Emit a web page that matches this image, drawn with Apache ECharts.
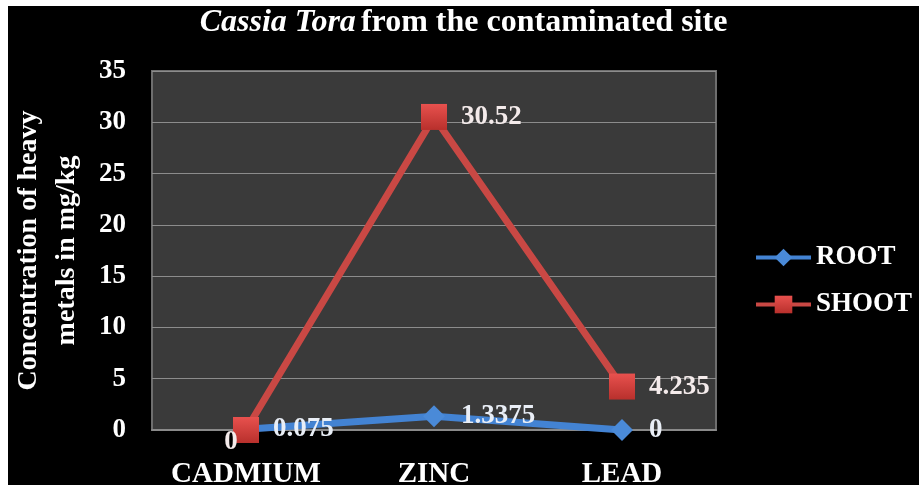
<!DOCTYPE html>
<html lang="en">
<head>
    <meta charset="UTF-8">
    <title>Cassia Tora</title>
    <style>
        html, body {
            margin: 0;
            padding: 0;
            background: #fff;
        }
        #chart {
            position: absolute;
            left: 8px;
            top: 6px;
            width: 911px;
            height: 479px;
            background: #000;
        }
    </style>
</head>
<body>
    <div id="chart"></div>
    <script src="https://cdn.jsdelivr.net/npm/echarts@6/dist/echarts.min.js"></script>
    <script>
        var categories = ['CADMIUM', 'ZINC', 'LEAD'];
        var rootValues = [0.075, 1.3375, 0];
        var shootValues = [0, 30.52, 4.235];
        var yTicks = { min: 0, max: 35, interval: 5 };

        var serif = "'Liberation Serif', 'Times New Roman', serif";

        var chart = echarts.init(document.getElementById('chart'));

        // the shoot value at cadmium is labelled below the marker
        var shootData = shootValues.map(function (v, i) {
            if (i === 0) {
                return { value: v, label: { position: 'bottom', distance: 0, offset: [-15, -14] } };
            }
            return v;
        });

        var option = {
            animation: false,
            backgroundColor: '#000',
            title: {
                left: 'center',
                top: -4,
                text: '{i|Cassia Tora} {b|from the contaminated site}',
                textStyle: {
                    rich: {
                        i: { fontFamily: serif, fontStyle: 'italic', fontSize: 32, color: '#fff' },
                        b: { fontFamily: serif, fontWeight: 'bold', fontSize: 32, color: '#fff' }
                    }
                }
            },
            legend: {
                orient: 'vertical',
                left: 741,
                top: 233,
                itemWidth: 55,
                itemHeight: 22,
                itemGap: 20,
                data: ['ROOT', 'SHOOT'],
                lineStyle: { width: 4 },
                textStyle: { color: '#fff', fontFamily: serif, fontWeight: 'bold', fontSize: 27 }
            },
            grid: {
                left: 144,
                right: 203,
                top: 65,
                bottom: 55,
                outerBoundsMode: 'none',
                containLabel: false,
                show: true,
                backgroundColor: '#3a3a3a',
                borderColor: '#6e6e6e',
                borderWidth: 2
            },
            xAxis: {
                type: 'category',
                data: categories,
                axisTick: { show: false },
                axisLine: { lineStyle: { color: '#8a8a8a', width: 2 } },
                axisLabel: {
                    interval: 0,
                    hideOverlap: false,
                    color: '#fff',
                    fontFamily: serif,
                    fontWeight: 'bold',
                    fontSize: 29,
                    margin: 30
                }
            },
            yAxis: {
                type: 'value',
                min: yTicks.min,
                max: yTicks.max,
                interval: yTicks.interval,
                name: 'Concentration of heavy\nmetals in mg/kg',
                nameLocation: 'middle',
                nameGap: 66,
                nameTextStyle: {
                    color: '#fff',
                    fontFamily: serif,
                    fontWeight: 'bold',
                    fontSize: 28,
                    lineHeight: 38
                },
                axisLine: { show: false },
                axisTick: { show: false },
                splitLine: { lineStyle: { color: '#8c8c8c', width: 1 } },
                axisLabel: {
                    color: '#fff',
                    fontFamily: serif,
                    fontWeight: 'bold',
                    fontSize: 27,
                    margin: 26
                }
            },
            series: [{
                name: 'ROOT',
                type: 'line',
                data: rootValues,
                symbol: 'diamond',
                symbolSize: 22,
                lineStyle: { color: '#4383d3', width: 7 },
                itemStyle: { color: '#4a8ad8' },
                label: {
                    show: true,
                    position: 'right',
                    distance: 16,
                    color: '#e9eef6',
                    fontFamily: serif,
                    fontWeight: 'bold',
                    fontSize: 27
                },
                z: 2
            }, {
                name: 'SHOOT',
                type: 'line',
                data: shootData,
                symbol: 'rect',
                symbolSize: 26,
                lineStyle: { color: '#c94844', width: 7 },
                itemStyle: {
                    color: new echarts.graphic.LinearGradient(0, 0, 0, 1, [
                        { offset: 0, color: '#e8514e' },
                        { offset: 1, color: '#b8302c' }
                    ])
                },
                label: {
                    show: true,
                    position: 'right',
                    distance: 14,
                    color: '#f4ebeb',
                    fontFamily: serif,
                    fontWeight: 'bold',
                    fontSize: 27
                },
                z: 3
            }]
        };

        chart.setOption(option);
    </script>
</body>
</html>
